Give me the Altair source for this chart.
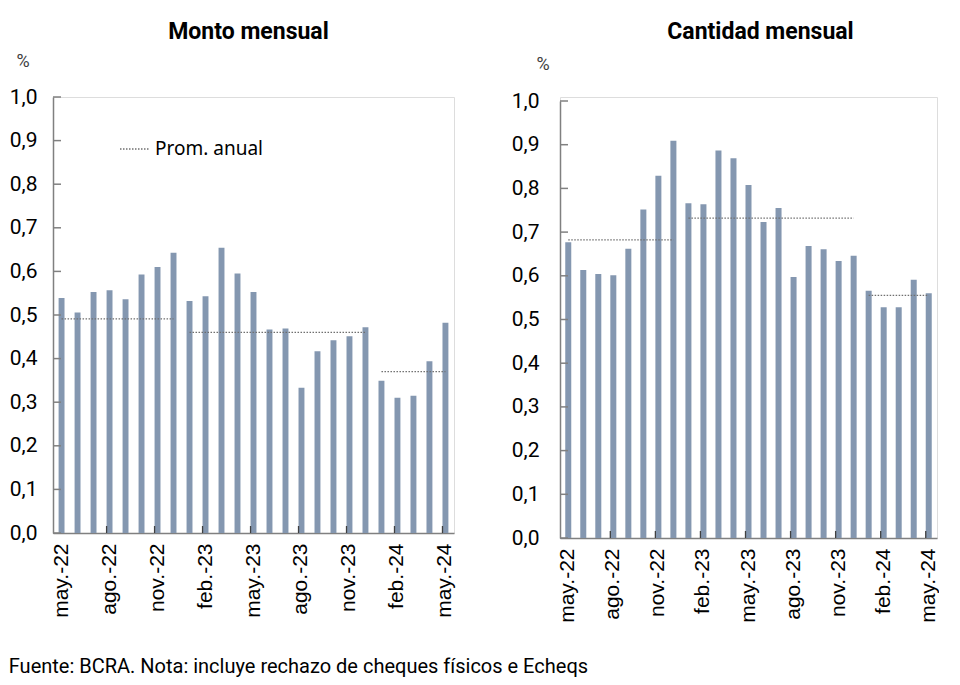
import altair as alt
import pandas as pd

meses = ["may.-22", "jun.-22", "jul.-22", "ago.-22", "sep.-22", "oct.-22", "nov.-22", "dic.-22",
         "ene.-23", "feb.-23", "mar.-23", "abr.-23", "may.-23", "jun.-23", "jul.-23", "ago.-23",
         "sep.-23", "oct.-23", "nov.-23", "dic.-23", "ene.-24", "feb.-24", "mar.-24", "abr.-24", "may.-24"]

monto = [0.539, 0.506, 0.553, 0.557, 0.536, 0.593, 0.610, 0.643, 0.532, 0.543, 0.654, 0.595, 0.553,
         0.467, 0.469, 0.333, 0.417, 0.442, 0.451, 0.472, 0.349, 0.310, 0.315, 0.394, 0.482]
cantidad = [0.677, 0.613, 0.604, 0.601, 0.662, 0.752, 0.829, 0.909, 0.766, 0.764, 0.887, 0.869, 0.808,
            0.723, 0.755, 0.597, 0.668, 0.661, 0.634, 0.646, 0.566, 0.528, 0.528, 0.591, 0.560]

prom_inicio = ["may.-22", "ene.-23", "ene.-24"]
prom_fin = ["dic.-22", "dic.-23", "may.-24"]
prom_monto = [0.491, 0.460, 0.370]
prom_cantidad = [0.682, 0.732, 0.555]

etiquetas_x = ["may.-22", "ago.-22", "nov.-22", "feb.-23", "may.-23", "ago.-23", "nov.-23", "feb.-24", "may.-24"]
marcas_x = ["ago.-22", "nov.-22", "feb.-23", "may.-23", "ago.-23", "nov.-23", "feb.-24", "may.-24"]
marcas_y = [0.0, 0.1, 0.2, 0.3, 0.4, 0.5, 0.6, 0.7, 0.8, 0.9, 1.0]

titulos = ["Monto mensual", "Cantidad mensual"]
leyenda = "Prom. anual"
fuente = "Fuente: BCRA. Nota: incluye rechazo de cheques físicos e Echeqs"

BAR = "#8497B0"
AXIS = "#808080"
DOT = "#6f6f6f"


def panel(valores, proms, titulo, w, h, top, pinner, lpad, pct_dx, pct_dy, title_dx, title_offset,
          con_leyenda):
    xs = alt.Scale(domain=meses, paddingInner=pinner, paddingOuter=0.35)
    ys = alt.Scale(domain=[0, 1], nice=False, range=[h, top])
    df = pd.DataFrame({"mes": meses, "valor": valores})
    bars = alt.Chart(df).mark_bar(color=BAR).encode(
        x=alt.X("mes:N", scale=xs, title=None,
                axis=alt.Axis(values=etiquetas_x, labelAngle=-90, ticks=False, domainColor=AXIS,
                              domainWidth=1.5, labelFont="Liberation Sans", labelFontSize=21,
                              labelColor="#000000", labelPadding=10, grid=False)),
        y=alt.Y("valor:Q", scale=ys, title=None,
                axis=alt.Axis(values=marcas_y, ticks=False, grid=False, domainColor=AXIS, domainWidth=1.5,
                              labelExpr="replace(format(datum.value, '.1f'), '.', ',')",
                              labelFont="Roboto", labelFontSize=21, labelColor="#000000",
                              labelPadding=lpad)),
    )
    pdf = pd.DataFrame({"inicio": prom_inicio, "fin": prom_fin, "prom": proms})
    avg = alt.Chart(pdf).mark_rule(color=DOT, strokeDash=[1.5, 1.5], strokeWidth=1.3).encode(
        x=alt.X("inicio:N", scale=xs, title=None),
        x2="fin:N",
        y=alt.Y("prom:Q", scale=ys, title=None),
    )
    xt = alt.Chart(pd.DataFrame({"mes": marcas_x})).mark_rule(color="#404040", strokeWidth=1.3).encode(
        x=alt.X("mes:N", scale=xs, bandPosition=0, title=None),
        y=alt.value(h), y2=alt.value(h - 7),
    )
    yt = alt.Chart(pd.DataFrame({"v": marcas_y})).mark_rule(color=AXIS, strokeWidth=1.5).encode(
        y=alt.Y("v:Q", scale=ys, title=None),
        x=alt.value(0), x2=alt.value(8),
    )
    pct = alt.Chart(pd.DataFrame({"t": ["%"]})).mark_text(
        font="Roboto", fontSize=18, color="#404040").encode(
        text="t:N", x=alt.value(pct_dx), y=alt.value(pct_dy))
    layers = [bars, avg, xt, yt, pct]
    if con_leyenda:
        ld = pd.DataFrame({"t": [leyenda]})
        lr = alt.Chart(ld).mark_rule(color=DOT, strokeDash=[1.5, 1.5], strokeWidth=1.3).encode(
            x=alt.value(67), x2=alt.value(97), y=alt.value(52))
        lt = alt.Chart(ld).mark_text(font="Noto Sans", fontSize=19, color="#000000", align="left",
                                     baseline="middle").encode(
            text="t:N", x=alt.value(102), y=alt.value(52))
        layers += [lr, lt]
    return alt.layer(*layers).properties(
        width=w, height=h,
        title=alt.TitleParams(titulo, font="Roboto", fontSize=23, fontWeight="bold", color="#000000",
                              anchor="middle", frame="group", dx=title_dx, offset=title_offset),
    )


left = panel(monto, prom_monto, titulos[0], 401, 436, 0, 0.63, 16, -30, -35, -5, 9, True)
right = panel(cantidad, prom_cantidad, titulos[1], 377, 441, 4, 0.6, 21, -17, -32, 12, 12, False)

chart = alt.hconcat(left, right, spacing=54).properties(
    padding={"left": 0, "top": 12, "right": 0, "bottom": 0},
    title=alt.TitleParams(fuente, orient="bottom", anchor="start", font="Roboto",
                          fontSize=20, fontWeight="normal", color="#000000", offset=34),
).configure_view(stroke=None).configure(background="white")

chart.save("out.html", embed_options={"renderer": "svg", "actions": False})
